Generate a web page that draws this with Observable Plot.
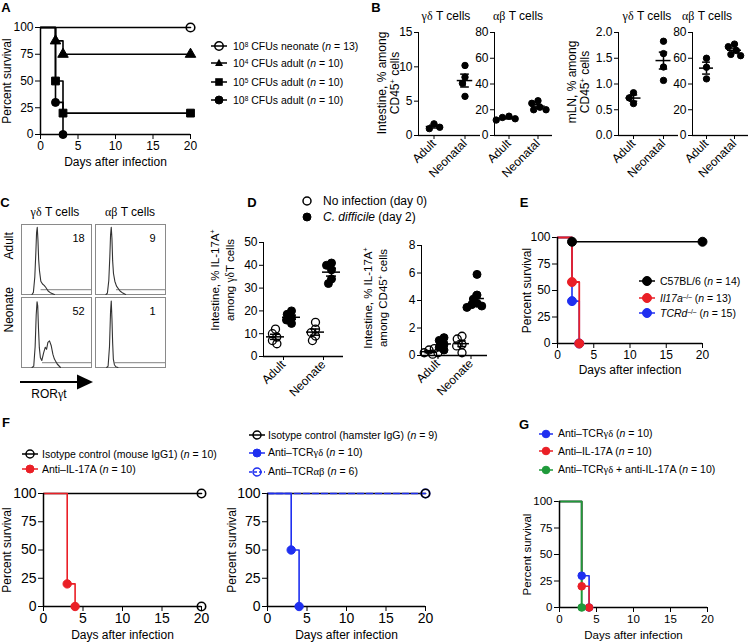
<!DOCTYPE html>
<html><head><meta charset="utf-8">
<script src="https://cdn.jsdelivr.net/npm/d3@7"></script>
<script src="https://cdn.jsdelivr.net/npm/@observablehq/plot@0.6"></script>
<style>
body{margin:0;background:#fff;}
#root{position:relative;width:751px;height:642px;overflow:hidden;font-family:"Liberation Sans",Arial,sans-serif;color:#000;background:#fff;}
.abs{position:absolute;}
.t{position:absolute;white-space:nowrap;line-height:1;transform:translate(-50%,-50%);}
.l{position:absolute;white-space:nowrap;line-height:1;transform:translateY(-50%);}
.g{font-family:"Liberation Serif","DejaVu Serif",serif;}
sup{font-size:0.62em;vertical-align:0.5em;line-height:0;}
.big g[aria-label="x-axis label"], .big g[aria-label="y-axis label"]{font-size:12px;}
</style></head><body><div id="root"></div>
<script>
// ---------------- DATA ----------------
// Panel A (survival, %)
const aDaysNeonate = [0, 20],       aSurvNeonate = [100, 100];
const aDays1e4 = [0, 2, 3, 20],     aSurv1e4 = [100, 87.5, 75, 75];
const aDays1e5 = [0, 2, 3, 20],     aSurv1e5 = [100, 50, 20, 20];
const aDays1e8 = [0, 2, 3],         aSurv1e8 = [100, 30, 0];
const survTicksX = [0, 5, 10, 15, 20];
const survTicksY = [0, 25, 50, 75, 100];

// Panel B (% among CD45+ cells)
const bCategories = ["Adult", "Neonatal"];
const bIntGdAdult = [1.7, 1.0, 1.2],      bIntGdNeonatal = [10.2, 8.5, 7.6, 5.7];
const bIntAbAdult = [15, 14, 13, 12],     bIntAbNeonatal = [27, 25, 22, 20, 20];
const bMlnGdAdult = [0.83, 0.62, 0.73],   bMlnGdNeonatal = [1.83, 1.59, 1.33, 1.07];
const bMlnAbAdult = [60, 53, 44],         bMlnAbNeonatal = [71, 69, 66, 63, 62];
const bTicksIntGd = [0, 5, 10, 15], bTicksAb = [0, 20, 40, 60, 80], bTicksMlnGd = [0, 0.5, 1.0, 1.5, 2.0];

// Panel C (flow histograms; x = RORγt channel 0-100, y = % of max)
const cCells = ["γδ T cells", "αβ T cells"];
const cAges = ["Adult", "Neonate"];
const cAdultGdX = [15, 17, 19, 20.5, 21.5, 22.5, 23.5, 24.5, 25.7, 27.6, 30, 32.4, 34.8, 38, 42, 47];
const cAdultGdY = [0, 3, 25, 60, 88, 96, 78, 50, 34, 19, 15, 13, 10, 5, 2, 0];
const cAdultAbX = [15, 17, 19, 20.5, 21.5, 22.5, 23.5, 24.5, 25.7, 27.6, 30, 35, 39, 43];
const cAdultAbY = [0, 2, 20, 55, 85, 96, 80, 48, 30, 19, 12, 5, 2, 0];
const cNeoGdX = [15, 17.5, 19.5, 21, 22.2, 23.2, 24.3, 25.5, 27, 29, 31.6, 34, 35.8, 37.7, 40, 42.5, 44.8, 47, 51, 55.7];
const cNeoGdY = [0, 2, 30, 75, 94, 88, 55, 28, 14, 10, 21, 29, 26, 36, 38, 31, 19, 12, 5, 0];
const cNeoAbX = [16, 18, 20, 21.5, 22.5, 23.5, 24.5, 25.5, 27, 29, 32];
const cNeoAbY = [0, 2, 30, 80, 95, 70, 35, 12, 4, 1, 0];
const cGateStart = [28, 30, 30, 28];
const cGateLevel = [7, 7, 7, 7];
const cPercent = [18, 9, 52, 1];

// Panel D (% IL-17A+)
const dCategories = ["Adult", "Neonate"];
const dGdNoneAdult = [12, 10, 8.5, 7, 5.6],    dGdCdAdult = [20, 18.5, 17, 16, 14.5];
const dGdNoneNeonate = [15, 12, 10.5, 9, 7],   dGdCdNeonate = [41, 40, 38, 34, 32];
const dCdNoneAdult = [0.4, 0.2, 0.5, 0.1, 0.2], dCdCdAdult = [1.3, 1.1, 0.8, 0.6, 0.4];
const dCdNoneNeonate = [1.4, 1.2, 0.8, 0.7, 0.2], dCdCdNeonate = [5.9, 4.4, 4.1, 3.8, 3.7, 3.6, 3.5];
const dTicksGd = [0, 10, 20, 30, 40, 50], dTicksCd = [0, 2, 4, 6, 8];

// Panel E
const eDaysB6 = [0, 2, 20],   eSurvB6 = [100, 96, 96];
const eDaysIl17 = [0, 2, 3],  eSurvIl17 = [100, 58, 0];
const eDaysTcrd = [0, 2, 3],  eSurvTcrd = [100, 40, 0];

// Panel F
const fDaysIsoMouse = [0, 20],     fSurvIsoMouse = [100, 100];
const fDaysAntiIl17 = [0, 3, 4],   fSurvAntiIl17 = [100, 20, 0];
const fDaysEndMarker = [20],       fSurvEndMarker = [0];
const fDaysIsoHamster = [0, 20],   fSurvIsoHamster = [100, 100];
const fDaysAntiGd = [0, 3, 4],     fSurvAntiGd = [100, 50, 0];
const fDaysAntiAb = [0, 20],       fSurvAntiAb = [100, 100];

// Panel G
const gDaysAntiGd = [0, 3, 4],     gSurvAntiGd = [100, 30, 0];
const gDaysAntiIl17 = [0, 3, 4],   gSurvAntiIl17 = [100, 20, 0];
const gDaysCombo = [0, 3],         gSurvCombo = [100, 0];

const RED = "#ea1f26", BLUE = "#1f2ff0", GREEN = "#1f9a3a";

// ---------------- HELPERS ----------------
const root = document.getElementById("root");
const FONT = '"Liberation Sans", Arial, sans-serif';
function place(node, left, top, cls) {
  const d = document.createElement("div");
  d.className = "abs" + (cls ? " " + cls : "");
  d.style.left = left + "px"; d.style.top = top + "px";
  d.appendChild(node); root.appendChild(d); return d;
}
function text(html, cx, cy, o = {}) {
  const d = document.createElement("div");
  d.className = "t"; d.innerHTML = html;
  d.style.left = cx + "px"; d.style.top = cy + "px";
  d.style.fontSize = (o.size || 12) + "px";
  if (o.bold) d.style.fontWeight = "bold";
  if (o.lh) { d.style.lineHeight = o.lh + "px"; d.style.textAlign = "center"; }
  if (o.rotate) d.style.transform = `translate(-50%,-50%) rotate(${o.rotate}deg)`;
  root.appendChild(d); return d;
}
function ltext(html, x, cy, size) {
  const d = document.createElement("div");
  d.className = "l"; d.innerHTML = html;
  d.style.left = x + "px"; d.style.top = cy + "px"; d.style.fontSize = size + "px";
  root.appendChild(d); return d;
}
function swatch(cx, cy, o = {}) {
  const {symbol = "circle", color = "black", open = false, dash = null, r = 4, line = true, half = 8} = o;
  let m;
  if (symbol === "circle") m = `<circle cx="10" cy="8" r="${r}" fill="${open ? "none" : color}" stroke="${color}" stroke-width="${open ? 1.5 : 1}"/>`;
  else if (symbol === "triangle") m = `<path d="M10,${8 - r * 1.2}L${10 + r * 1.1},${8 + r * 0.8}L${10 - r * 1.1},${8 + r * 0.8}Z" fill="${color}"/>`;
  else m = `<rect x="${10 - r}" y="${8 - r}" width="${2 * r}" height="${2 * r}" fill="${color}"/>`;
  const ln = line ? `<line x1="${10 - half}" x2="${10 + half}" y1="8" y2="8" stroke="${color}" stroke-width="1.5" ${dash ? `stroke-dasharray="${dash}"` : ""}/>` : "";
  const d = document.createElement("div");
  d.className = "abs"; d.style.left = (cx - 10) + "px"; d.style.top = (cy - 8) + "px";
  d.innerHTML = `<svg width="20" height="16" style="overflow:visible;display:block">${ln}${m}</svg>`;
  root.appendChild(d);
}
const toRows = (days, surv) => days.map((day, i) => ({day, surv: surv[i]}));

function survival(o) {
  const marks = [];
  o.series.forEach(s => {
    if (s.noLine) return;
    marks.push(Plot.line(toRows(s.days, s.surv), {x: "day", y: "surv", curve: "step-after", stroke: s.color, strokeWidth: s.sw || 1.6, strokeDasharray: s.dash}));
  });
  marks.push(Plot.ruleX([0], {stroke: "black", strokeWidth: 1.5}));
  marks.push(Plot.ruleY([0], {stroke: "black", strokeWidth: 1.5}));
  (o.dotOrder || o.series.map((_, i) => i)).forEach(i => {
    const s = o.series[i];
    marks.push(Plot.dot(toRows(s.days, s.surv).filter(d => d.day > 0), {
      x: "day", y: "surv", symbol: s.symbol || "circle", r: s.r || o.r,
      fill: s.open ? "none" : s.color, stroke: s.markerStroke || s.color, strokeWidth: s.open ? 1.6 : 1
    }));
  });
  const p = Plot.plot({
    width: o.width, height: o.height,
    marginLeft: o.ml, marginRight: o.mr, marginTop: o.mt, marginBottom: o.mb,
    style: {fontFamily: FONT, fontSize: (o.tickFont || 12) + "px", color: "black", background: "transparent", overflow: "visible"},
    x: {domain: [0, 20], ticks: survTicksX, tickSize: 5, tickPadding: 2, line: true, label: "Days after infection", labelAnchor: "center", labelArrow: "none", labelOffset: o.xlo},
    y: {domain: [0, 100], ticks: survTicksY, tickSize: 5, tickPadding: 2, line: true, label: "Percent survival", labelAnchor: "center", labelArrow: "none", labelOffset: o.ylo},
    marks
  });
  return place(p, o.left, o.top, o.cls);
}

const mkRows = (cats, arrays) => cats.flatMap((cat, i) => arrays[i].map(value => ({cat, value})));
function summarize(rows, cats) {
  return cats.map(cat => {
    const v = rows.filter(d => d.cat === cat).map(d => d.value);
    const m = d3.mean(v), se = d3.deviation(v) / Math.sqrt(v.length);
    return {cat, mean: m, lo: m - se, hi: m + se};
  });
}
function scatter(o) {
  const marks = [Plot.ruleY([o.yDomain[0]], {stroke: "black", strokeWidth: 1.3})];
  o.groups.forEach(g => {
    marks.push(Plot.dot(g.rows, Plot.dodgeX({anchor: "middle", padding: o.pad}, {
      y: "value", fx: "cat", r: o.r, fill: g.open ? "none" : "black", stroke: "black", strokeWidth: g.open ? 1.3 : 1, dx: g.dx || 0
    })));
  });
  o.groups.forEach(g => {
    const s = summarize(g.rows, o.cats), dx = g.dx || 0;
    marks.push(Plot.ruleY(s, {fx: "cat", y: "mean", x1: -o.mw, x2: o.mw, dx, stroke: "black", strokeWidth: 1.5}));
    marks.push(Plot.ruleX(s, {fx: "cat", x: 0, y1: "lo", y2: "hi", dx, stroke: "black", strokeWidth: 1.5}));
    marks.push(Plot.ruleY(s, {fx: "cat", y: "lo", x1: -o.cw, x2: o.cw, dx, stroke: "black", strokeWidth: 1.5}));
    marks.push(Plot.ruleY(s, {fx: "cat", y: "hi", x1: -o.cw, x2: o.cw, dx, stroke: "black", strokeWidth: 1.5}));
  });
  const p = Plot.plot({
    width: o.width, height: o.height,
    marginLeft: o.ml, marginRight: o.mr, marginTop: o.mt, marginBottom: o.mb,
    style: {fontFamily: FONT, fontSize: "12px", color: "black", background: "transparent", overflow: "visible"},
    x: {domain: [-1, 1], axis: null},
    y: {domain: o.yDomain, ticks: o.yTicks, tickFormat: o.fmt, tickSize: 4, tickPadding: 2, line: true, label: null},
    fx: {domain: o.cats, padding: 0, axis: "bottom", tickRotate: -45, tickSize: 4, tickPadding: 2, label: null},
    marks
  });
  return place(p, o.left, o.top);
}

// ---------------- PANEL A ----------------
survival({
  left: 0, top: 0, width: 200, height: 175, ml: 40, mr: 10, mt: 27, mb: 41, xlo: 31, ylo: 38, r: 4,
  series: [
    {days: aDaysNeonate, surv: aSurvNeonate, color: "black", open: true, r: 4.3},
    {days: aDays1e4, surv: aSurv1e4, color: "black", symbol: "triangle", r: 3.9},
    {days: aDays1e5, surv: aSurv1e5, color: "black", symbol: "square", r: 4.4},
    {days: aDays1e8, surv: aSurv1e8, color: "black"}
  ]
});
text("A", 6, 7, {size: 13, bold: true});
swatch(219, 46, {open: true, r: 4.2}); ltext("10<sup>8</sup> CFUs neonate (<i>n</i> = 13)", 233, 46, 10.5);
swatch(219, 63, {symbol: "triangle", r: 3.6}); ltext("10<sup>4</sup> CFUs adult (<i>n</i> = 10)", 233, 63, 10.5);
swatch(219, 82, {symbol: "square", r: 3.8}); ltext("10<sup>5</sup> CFUs adult (<i>n</i> = 10)", 233, 82, 10.5);
swatch(219, 100, {r: 4}); ltext("10<sup>8</sup> CFUs adult (<i>n</i> = 10)", 233, 100, 10.5);

// ---------------- PANEL B ----------------
text("B", 376, 7, {size: 13, bold: true});
const bCommon = {top: 25, height: 160, mt: 7, mb: 50, cats: bCategories, r: 3.2, pad: 0.3, mw: 0.5, cw: 0.28};
scatter({...bCommon, left: 395, width: 87, ml: 22, mr: 2, yDomain: [0, 15], yTicks: bTicksIntGd, fmt: d3.format("d"),
  groups: [{rows: mkRows(bCategories, [bIntGdAdult, bIntGdNeonatal])}]});
scatter({...bCommon, left: 470, width: 84, ml: 23, mr: 2, yDomain: [0, 80], yTicks: bTicksAb, fmt: d3.format("d"),
  groups: [{rows: mkRows(bCategories, [bIntAbAdult, bIntAbNeonatal])}]});
scatter({...bCommon, left: 592, width: 88, ml: 25, mr: 2, yDomain: [0, 2], yTicks: bTicksMlnGd, fmt: d3.format(".1f"),
  groups: [{rows: mkRows(bCategories, [bMlnGdAdult, bMlnGdNeonatal])}]});
scatter({...bCommon, left: 670, width: 81, ml: 22, mr: 3, yDomain: [0, 80], yTicks: bTicksAb, fmt: d3.format("d"),
  groups: [{rows: mkRows(bCategories, [bMlnAbAdult, bMlnAbNeonatal])}]});
text('<span class="g">γδ</span> T cells', 446, 16);
text('<span class="g">αβ</span> T cells', 518, 16);
text('<span class="g">γδ</span> T cells', 647, 16);
text('<span class="g">αβ</span> T cells', 707, 16);
text("Intestine, % among<br>CD45<sup>+</sup> cells", 388, 83, {rotate: -90, lh: 12.5});
text("mLN, % among<br>CD45<sup>+</sup> cells", 579, 82, {rotate: -90, lh: 13});

// ---------------- PANEL C ----------------
text("C", 5, 202, {size: 13, bold: true});
const cHist = [
  {cell: cCells[0], age: cAges[0], xs: cAdultGdX, ys: cAdultGdY},
  {cell: cCells[1], age: cAges[0], xs: cAdultAbX, ys: cAdultAbY},
  {cell: cCells[0], age: cAges[1], xs: cNeoGdX, ys: cNeoGdY},
  {cell: cCells[1], age: cAges[1], xs: cNeoAbX, ys: cNeoAbY}
];
const cRows = cHist.flatMap((h, k) => h.xs.map((x, i) => ({key: k, cell: h.cell, age: h.age, x, y: h.ys[i]})));
const cGates = cHist.map((h, k) => ({cell: h.cell, age: h.age, x1: cGateStart[k], y: cGateLevel[k]}));
const cLabels = cHist.map((h, k) => ({cell: h.cell, age: h.age, text: String(cPercent[k])}));
place(Plot.plot({
  width: 168, height: 168, marginLeft: 20, marginRight: 2, marginTop: 24, marginBottom: 1,
  style: {fontFamily: FONT, fontSize: "12px", color: "black", background: "transparent", overflow: "visible"},
  x: {domain: [0, 100], axis: null}, y: {domain: [0, 100], axis: null},
  fx: {domain: cCells, paddingInner: 0.053, paddingOuter: 0, axis: null},
  fy: {domain: cAges, paddingInner: 0.042, paddingOuter: 0, axis: null},
  marks: [
    Plot.frame({stroke: "#8a8a8a"}),
    Plot.ruleY(cGates, {fx: "cell", fy: "age", y: "y", x1: "x1", x2: 100, stroke: "#9a9a9a", strokeWidth: 1.3}),
    Plot.line(cRows, {fx: "cell", fy: "age", x: "x", y: "y", z: "key", stroke: "#333", strokeWidth: 1.1}),
    Plot.text(cLabels, {fx: "cell", fy: "age", text: "text", frameAnchor: "top-right", textAnchor: "middle", dx: -13, dy: 10, fontSize: 11}),
    Plot.text(cAges, {fy: d => d, fx: () => cCells[0], text: d => d, frameAnchor: "left", rotate: -90, dx: -12, fontSize: 12})
  ]
}), 0, 200);
text('<span class="g">γδ</span> T cells', 55, 212);
text('<span class="g">αβ</span> T cells', 130, 212);
(function () {
  const d = document.createElement("div");
  d.className = "abs"; d.style.left = "20px"; d.style.top = "374px";
  d.innerHTML = '<svg width="76" height="16" style="display:block"><line x1="0" x2="59" y1="8" y2="8" stroke="black" stroke-width="2"/><path d="M57,0.5L73,8L57,15.5Z" fill="black"/></svg>';
  root.appendChild(d);
})();
text('ROR<span class="g">γ</span>t', 49, 394);

// ---------------- PANEL D ----------------
text("D", 252, 202, {size: 13, bold: true});
swatch(307, 201, {open: true, line: false, r: 4}); ltext("No infection (day 0)", 323, 201, 12);
swatch(307, 217, {line: false, r: 4}); ltext("<i>C. difficile</i> (day 2)", 323, 217, 12);
const dCommon = {cats: dCategories, r: 4, pad: -2.5, mw: 0.45, cw: 0.25, mt: 10, mb: 50};
scatter({...dCommon, left: 238, top: 232, width: 107, height: 174, ml: 25, mr: 2, yDomain: [0, 50], yTicks: dTicksGd, fmt: d3.format("d"),
  groups: [
    {rows: mkRows(dCategories, [dGdNoneAdult, dGdNoneNeonate]), open: true, dx: -8},
    {rows: mkRows(dCategories, [dGdCdAdult, dGdCdNeonate]), dx: 8}
  ]});
scatter({...dCommon, left: 400, top: 235, width: 89, height: 170, ml: 20, mr: 2, yDomain: [0, 8], yTicks: dTicksCd, fmt: d3.format("d"),
  groups: [
    {rows: mkRows(dCategories, [dCdNoneAdult, dCdNoneNeonate]), open: true, dx: -9},
    {rows: mkRows(dCategories, [dCdCdAdult, dCdCdNeonate]), dx: 6}
  ]});
text('Intestine, % IL-17A<sup>+</sup><br>among <span class="g">γδ</span>T cells', 223, 280, {rotate: -90, lh: 15, size: 11.5});
text('Intestine, % IL-17A<sup>+</sup><br>among CD45<sup>+</sup> cells', 376, 298, {rotate: -90, lh: 15, size: 11.5});

// ---------------- PANEL E ----------------
text("E", 524, 202, {size: 13, bold: true});
survival({
  left: 500, top: 200, width: 217, height: 180, ml: 57, mr: 15, mt: 37, mb: 37, xlo: 30, ylo: 35, r: 4.5,
  series: [
    {days: eDaysB6, surv: eSurvB6, color: "black"},
    {days: eDaysTcrd, surv: eSurvTcrd, color: BLUE},
    {days: eDaysIl17, surv: eSurvIl17, color: RED, sw: 1.8}
  ]
});
swatch(647, 281, {r: 4.5, half: 8}); ltext("C57BL/6 (<i>n</i> = 14)", 660, 281, 10.5);
swatch(647, 298, {r: 4.5, color: RED, half: 8}); ltext("<i>Il17a</i><sup>–/–</sup> (<i>n</i> = 13)", 660, 298, 10.5);
swatch(647, 313, {r: 4.5, color: BLUE, half: 8}); ltext("<i>TCRd</i><sup>–/–</sup> (<i>n</i> = 15)", 660, 313, 10.5);

// ---------------- PANEL F ----------------
text("F", 6, 422, {size: 13, bold: true});
survival({
  left: 0, top: 470, width: 215, height: 175, ml: 43, mr: 14, mt: 23, mb: 39, xlo: 32, ylo: 41, r: 4.2, tickFont: 14, cls: "big",
  series: [
    {days: fDaysIsoMouse, surv: fSurvIsoMouse, color: "black", open: true},
    {days: fDaysAntiIl17, surv: fSurvAntiIl17, color: RED},
    {days: fDaysEndMarker, surv: fSurvEndMarker, color: "black", open: true, noLine: true}
  ]
});
swatch(30, 454, {open: true, r: 4}); ltext("Isotype control (mouse IgG1) (<i>n</i> = 10)", 42, 454, 10.5);
swatch(30, 469, {r: 4, color: RED}); ltext("Anti–IL-17A (<i>n</i> = 10)", 42, 469, 10.5);
survival({
  left: 225, top: 470, width: 215, height: 175, ml: 42, mr: 15, mt: 23, mb: 39, xlo: 32, ylo: 40, r: 4.2, tickFont: 14, cls: "big",
  series: [
    {days: fDaysIsoHamster, surv: fSurvIsoHamster, color: "black", open: true},
    {days: fDaysAntiGd, surv: fSurvAntiGd, color: BLUE},
    {days: fDaysAntiAb, surv: fSurvAntiAb, color: BLUE, open: true, dash: "6,3"}
  ],
  dotOrder: [2, 1, 0]
});
swatch(257, 435, {open: true, r: 4}); ltext("Isotype control (hamster IgG) (<i>n</i> = 9)", 268, 435, 10.5);
swatch(257, 453, {r: 4, color: BLUE}); ltext('Anti–TCR<span class="g">γδ</span> (<i>n</i> = 10)', 268, 453, 10.5);
swatch(257, 472, {r: 4, color: BLUE, open: true, dash: "3,2"}); ltext('Anti–TCR<span class="g">αβ</span> (<i>n</i> = 6)', 268, 472, 10.5);

// ---------------- PANEL G ----------------
text("G", 524, 424, {size: 13, bold: true});
survival({
  left: 520, top: 480, width: 200, height: 165, ml: 39, mr: 13, mt: 21, mb: 38, xlo: 31, ylo: 37, r: 3.8, tickFont: 11.5,
  series: [
    {days: gDaysAntiGd, surv: gSurvAntiGd, color: BLUE},
    {days: gDaysAntiIl17, surv: gSurvAntiIl17, color: RED},
    {days: gDaysCombo, surv: gSurvCombo, color: GREEN, sw: 2}
  ]
});
swatch(546, 434, {r: 3.8, color: BLUE, half: 7}); ltext('Anti–TCR<span class="g">γδ</span> (<i>n</i> = 10)', 558, 434, 10.5);
swatch(546, 451, {r: 3.8, color: RED, half: 7}); ltext("Anti–IL-17A (<i>n</i> = 10)", 558, 451, 10.5);
swatch(546, 470, {r: 3.8, color: GREEN, half: 7}); ltext('Anti–TCR<span class="g">γδ</span> + anti-IL-17A (<i>n</i> = 10)', 558, 470, 10.5);
</script></body></html>
